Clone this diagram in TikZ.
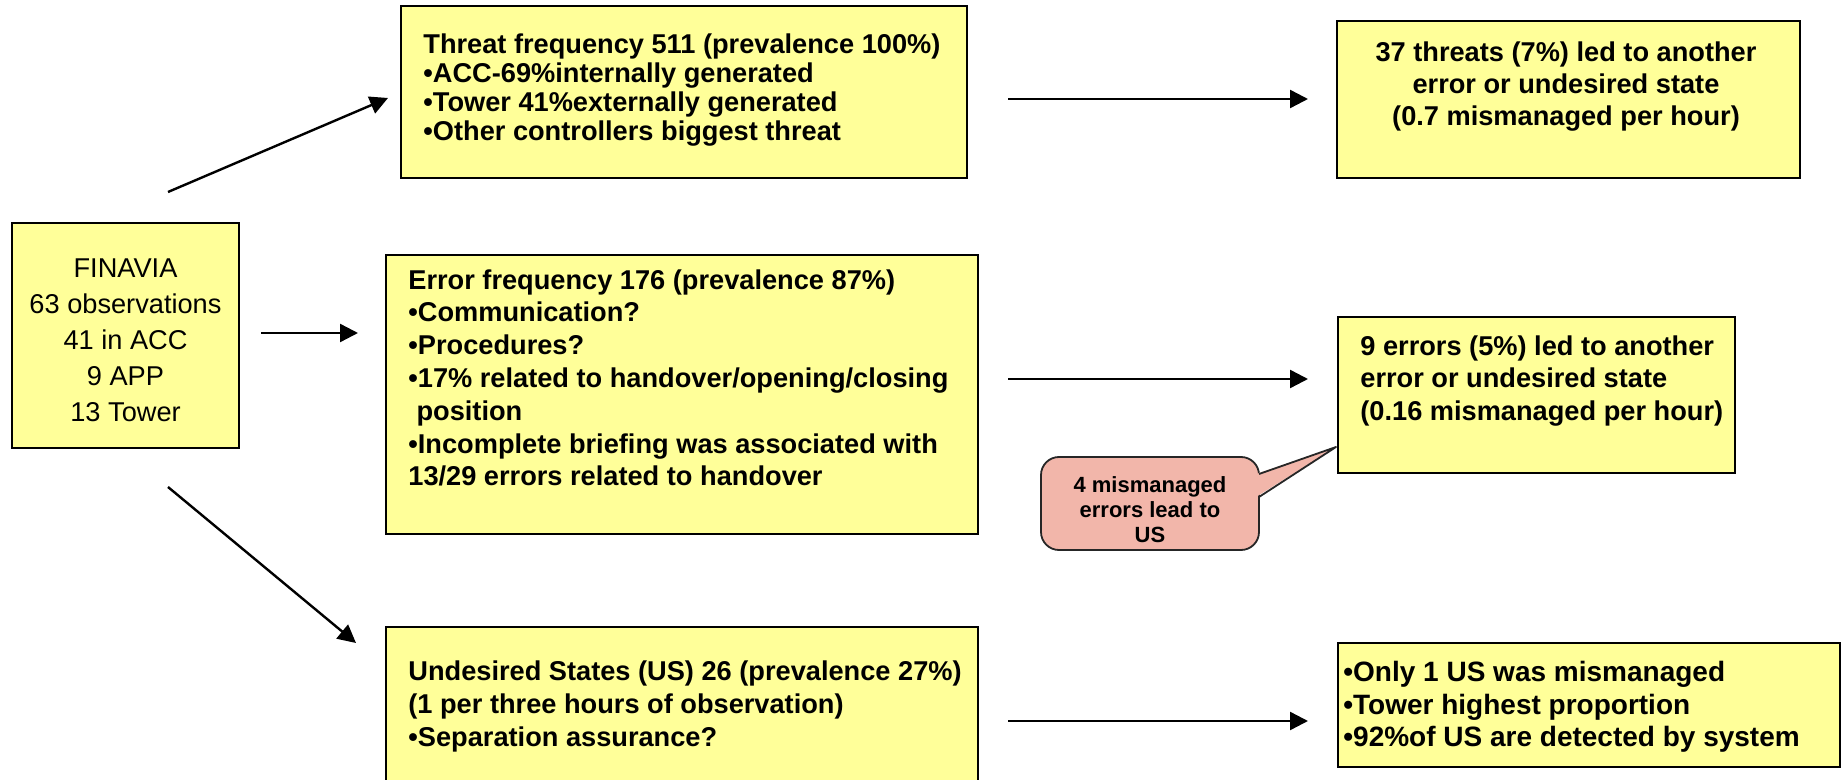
\documentclass[tikz,border=0pt]{standalone}
\usepackage{fontspec}
\setmainfont{Liberation Sans}
\usetikzlibrary{arrows.meta,fit}
\definecolor{boxyellow}{HTML}{FFFF99}
\definecolor{calloutpink}{HTML}{F2B6AA}
\begin{document}
\begin{tikzpicture}[x=0.5pt,y=-0.5pt,
  box/.style={draw=black,line width=0.9pt,fill=boxyellow,inner sep=0pt},
  txt/.style={inner sep=0pt,align=left,anchor=north west},
  bold/.style={font=\bfseries\fontsize{13.6}{#1}\selectfont},
  arr/.style={line width=1.2pt,-{Triangle[length=9pt,width=9pt]}}]
\useasboundingbox (0,0) rectangle (1843,780);
\clip (0,0) rectangle (1843,780);

% boxes
\node[box,fit={(12,223) (239,448)}] (fin) {};
\node[box,fit={(401,6) (967,178)}] (thr) {};
\node[box,fit={(386,255) (978,534)}] (err) {};
\node[box,fit={(386,627) (978,800)}] (us) {};
\node[box,fit={(1337,21) (1800,178)}] (r1) {};
\node[box,fit={(1338,317) (1735,473)}] (r2) {};
\node[box,fit={(1338,643) (1840,767)}] (r3) {};

% texts
\node[inner sep=0pt,align=center,anchor=north,font=\fontsize{13.6}{18}\selectfont] (fintext) at (125.5,258.5)
  {FINAVIA\\63 observations\\41 in ACC\\9 APP\\13 Tower};
\node[txt,bold=14.5] (thrtext) at (423,33)
  {Threat frequency 511 (prevalence 100\%)\\•ACC-69\%internally generated\\•Tower 41\%externally generated\\•Other controllers biggest threat};
\node[txt,bold=16.4] (errtext) at (408,269)
  {Error frequency 176 (prevalence 87\%)\\•Communication?\\•Procedures?\\•17\% related to handover/opening/closing\\\hspace*{0.3em}position\\•Incomplete briefing was associated with\\13/29 errors related to handover};
\node[txt,bold=16.5] (ustext) at (408,660)
  {Undesired States (US) 26 (prevalence 27\%)\\(1 per three hours of observation)\\•Separation assurance?};
\node[inner sep=0pt,align=center,anchor=north,bold=16] (r1text) at (1566,41)
  {37 threats (7\%) led to another\\error or undesired state\\(0.7 mismanaged per hour)};
\node[txt,bold=16.25] (r2text) at (1360,335)
  {9 errors (5\%) led to another\\error or undesired state\\(0.16 mismanaged per hour)};
\node[txt,font=\bfseries\fontsize{14}{16.25}\selectfont] (r3text) at (1343,661)
  {•Only 1 US was mismanaged\\•Tower highest proportion\\•92\%of US are detected by system};

% callout
\node[draw=black!85,line width=0.9pt,fill=calloutpink,rounded corners=9pt,inner sep=0pt,fit={(1041,457) (1259,550)}] (cb) {};
\coordinate (tip) at (1336,447);
\fill[calloutpink] (1256,474) -- (tip) -- (1256,497) -- cycle;
\draw[black!85,line width=0.9pt,line join=round] (1259,474) -- (tip) -- (1259,497);
\node[inner sep=0pt,align=center,anchor=north,font=\bfseries\fontsize{11}{12.5}\selectfont] (cbtext) at (1150,476)
  {4 mismanaged\\errors lead to\\US};

% arrows
\coordinate (a1s) at (168,192);  \coordinate (a1e) at (388,98);
\coordinate (a2s) at (261,333);  \coordinate (a2e) at (358,333);
\coordinate (a3s) at (168,487);  \coordinate (a3e) at (356,643);
\coordinate (a4s) at (1008,99);  \coordinate (a4e) at (1308,99);
\coordinate (a5s) at (1008,379); \coordinate (a5e) at (1308,379);
\coordinate (a6s) at (1008,721); \coordinate (a6e) at (1308,721);
\draw[arr] (a1s) -- (a1e);
\draw[arr] (a2s) -- (a2e);
\draw[arr] (a3s) -- (a3e);
\draw[arr] (a4s) -- (a4e);
\draw[arr] (a5s) -- (a5e);
\draw[arr] (a6s) -- (a6e);
\end{tikzpicture}
\end{document}
